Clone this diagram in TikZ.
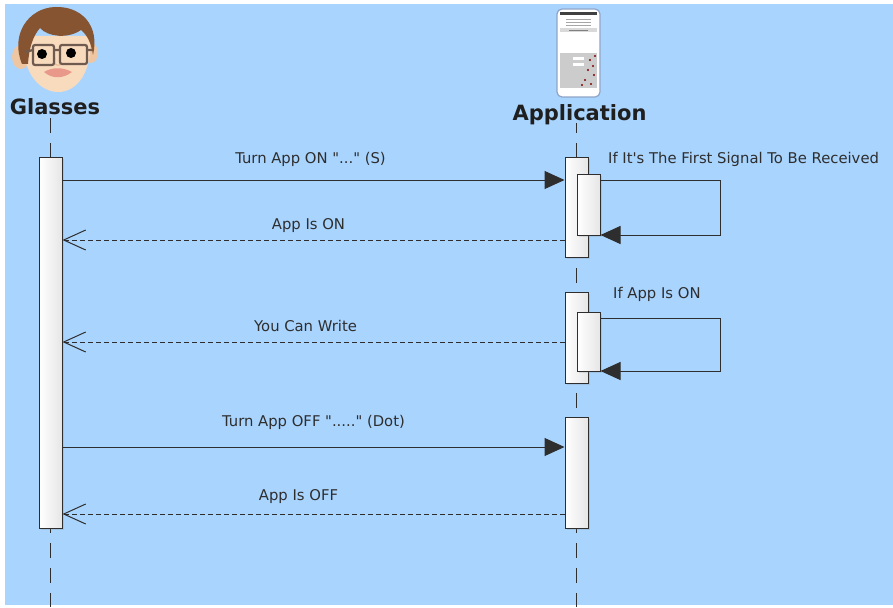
\documentclass[tikz,border=0pt]{standalone}
\usepackage{fontspec}
\newfontfamily\diafont{DejaVu Sans}
\usetikzlibrary{arrows.meta,shadows}

\definecolor{bgblue}{HTML}{A9D4FE}
\definecolor{linec}{HTML}{2E2E2E}
\definecolor{barfill}{HTML}{E6E6E6}
\definecolor{hair}{HTML}{865431}
\definecolor{skin}{HTML}{F8DABD}
\definecolor{skindark}{HTML}{EEC6A2}
\definecolor{frame}{HTML}{6F5A50}
\definecolor{lip}{HTML}{E8998A}
\definecolor{phoneedge}{HTML}{8EA5C9}

\begin{document}
\begin{tikzpicture}[x=1pt,y=-1pt,
  font=\diafont\fontsize{14.8}{17}\selectfont,
  actor/.style={font=\diafont\fontsize{21}{24}\selectfont\bfseries, text=black!88, inner sep=0pt, anchor=base},
  lifeline/.style={draw=linec, line width=1pt, dash pattern=on 15pt off 10pt},
  bar/.style={draw=linec, line width=1pt, left color=white, right color=barfill,
    minimum width=23pt, inner sep=0pt, anchor=north,
    drop shadow={opacity=.2, shadow xshift=1.5pt, shadow yshift=-1.5pt}},
  call/.style={draw=linec, line width=1pt, -{Triangle[length=20pt,width=18pt]}},
  reply/.style={draw=linec, line width=1pt, dash pattern=on 5pt off 3pt,
    -{Straight Barb[length=22pt,width=20pt,line width=1pt]}},
  msg/.style={text=linec, inner sep=0pt, anchor=base}]

\useasboundingbox (0,0) rectangle (893,607);
\fill[white] (0,0) rectangle (893,607);
\fill[bgblue] (5,4) rectangle (893,605);

% the glasses wearer
\fill[skindark] (21,57) ellipse (9pt and 12pt);
\fill[skindark] (91,53) ellipse (7pt and 10pt);
\fill[skin] (24,36) .. controls (21,76) and (42,92) .. (58,92)
  .. controls (77,92) and (93,72) .. (90,36) -- cycle;
\fill[hair] (22,64) .. controls (10,35) and (28,8) .. (55,7)
  .. controls (81,6) and (100,25) .. (93,55)
  .. controls (91,42) and (87,35) .. (81,30)
  .. controls (68,39) and (48,37) .. (40,28)
  .. controls (33,36) and (29,48) .. (28,64) -- cycle;
\fill[lip] (44,72) .. controls (52,67) and (63,67) .. (72,72)
  .. controls (63,79) and (52,79) .. (44,72) -- cycle;
\draw[skindark!80!brown, line width=1pt] (55,58) .. controls (53,64) and (56,66) .. (60,65);
\fill[black] (42,54) circle (5pt);
\fill[black] (71,53) circle (5pt);
\draw[frame, line width=2.2pt, rounded corners=2pt] (33,45) rectangle (54,65);
\draw[frame, line width=2.2pt, rounded corners=2pt] (60,45) rectangle (87,64);
\draw[frame, line width=2.2pt] (54,50) -- (60,50) (33,50) -- (25,52) (87,50) -- (92,50);

% the phone
\draw[draw=phoneedge, fill=white, line width=1.2pt, rounded corners=5pt] (557,9) rectangle (600,97);
\fill[black!75] (560,12) rectangle (597,15);
\foreach \y in {19,22,25}
  \draw[gray!70, line width=.7pt] (566,\y) -- (591,\y);
\fill[gray!30] (560,28) rectangle (597,32);
\draw[gray, line width=.7pt] (569,30) -- (588,30);
\fill[gray!40] (560,53) rectangle (597,88);
\foreach \p in {(590,60),(593,66),(588,70),(594,75),(585,80),(591,84),(595,56),(582,85)}
  \fill[black!50!red] \p circle (1.2pt);
\fill[white] (573,57) rectangle (584,60);
\fill[white] (573,63) rectangle (584,66);

% headers and lifelines
\node[actor] (glasses) at (55,114) {Glasses};
\node[actor] (app) at (579.5,121) {Application};

\coordinate (gtop) at (50.5,118);
\coordinate (gend) at (50.5,607);
\coordinate (atop) at (576.5,123);
\coordinate (aend) at (576.5,607);
\draw[lifeline] (gtop) -- (gend);
\draw[lifeline, dash phase=5pt] (atop) -- (aend);

% activations
\node[bar, minimum height=371pt] (gbar) at (50.5,157) {};
\node[bar, minimum height=100pt] (appA) at (576.5,157) {};
\node[bar, minimum height=61pt] (appB) at (588.5,174) {};
\node[bar, minimum height=91pt] (appC) at (576.5,292) {};
\node[bar, minimum height=59pt] (appD) at (588.5,312) {};
\node[bar, minimum height=111pt] (appE) at (576.5,417) {};

% message levels
\coordinate (on) at (576.5,180);
\coordinate (onack) at (576.5,240);
\coordinate (check) at (576.5,318);
\coordinate (canwrite) at (576.5,342);
\coordinate (off) at (576.5,447);
\coordinate (offack) at (576.5,514);

\draw[call] (gbar.east |- on) -- (appA.west |- on)
  node[msg, midway, xshift=-3pt, yshift=17pt] {Turn App ON "..." (S)};
\draw[call] (appB.east |- on) -- ++(120,0) |- ([yshift=1pt]appB.south east);
\node[msg, anchor=base west] (first) at (608,163) {If It's The First Signal To Be Received};
\draw[reply] (appA.west |- onack) -- (gbar.east |- onack)
  node[msg, midway, xshift=-5pt, yshift=11pt] {App Is ON};

\draw[call] (appD.east |- check) -- ++(120,0) |- ([yshift=1pt]appD.south east);
\node[msg, anchor=base west] (ison) at (613,298) {If App Is ON};
\draw[reply] (appC.west |- canwrite) -- (gbar.east |- canwrite)
  node[msg, midway, xshift=-8pt, yshift=11pt] {You Can Write};

\draw[call] (gbar.east |- off) -- (appE.west |- off)
  node[msg, midway, yshift=21pt] {Turn App OFF "....." (Dot)};
\draw[reply] (appE.west |- offack) -- (gbar.east |- offack)
  node[msg, midway, xshift=-15pt, yshift=14pt] {App Is OFF};
\end{tikzpicture}
\end{document}
